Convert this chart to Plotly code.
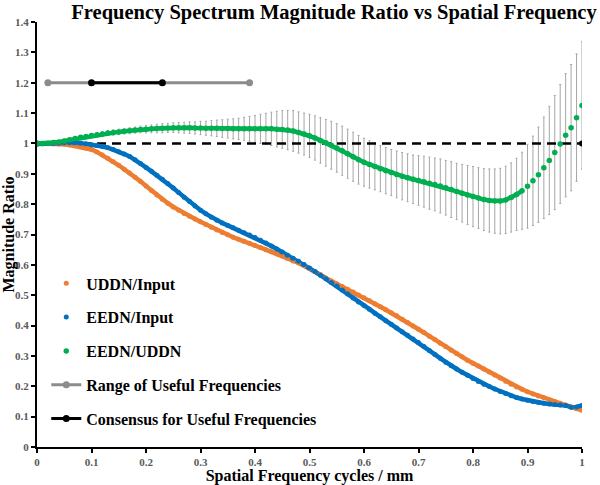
import plotly.graph_objects as go

# ---------------- data ----------------
freq = [round(i * 0.01, 2) for i in range(101)]

uddn_input = [
    1.000, 1.000, 0.999, 0.999, 0.998, 0.997, 0.995, 0.992, 0.989, 0.985,
    0.980, 0.972, 0.962, 0.951, 0.940, 0.928, 0.915, 0.903, 0.889, 0.875,
    0.860, 0.845, 0.830, 0.816, 0.803, 0.791, 0.780, 0.769, 0.760, 0.751,
    0.742, 0.733, 0.724, 0.715, 0.707, 0.699, 0.691, 0.684, 0.678, 0.671,
    0.664, 0.657, 0.650, 0.643, 0.636, 0.629, 0.621, 0.613, 0.606, 0.597,
    0.588, 0.578, 0.568, 0.557, 0.547, 0.538, 0.529, 0.520, 0.511, 0.501,
    0.492, 0.482, 0.472, 0.462, 0.452, 0.442, 0.432, 0.421, 0.410, 0.399,
    0.388, 0.377, 0.365, 0.354, 0.342, 0.331, 0.319, 0.308, 0.297, 0.286,
    0.276, 0.267, 0.257, 0.247, 0.237, 0.227, 0.217, 0.207, 0.198, 0.190,
    0.182, 0.175, 0.168, 0.162, 0.156, 0.150, 0.144, 0.138, 0.132, 0.126,
    0.121,
]

eedn_input = [
    0.998, 0.999, 1.000, 1.000, 1.001, 1.002, 1.002, 1.002, 1.001, 0.999,
    0.996, 0.993, 0.990, 0.986, 0.980, 0.973, 0.965, 0.957, 0.946, 0.934,
    0.921, 0.908, 0.895, 0.882, 0.868, 0.853, 0.838, 0.823, 0.809, 0.794,
    0.780, 0.768, 0.757, 0.747, 0.738, 0.730, 0.722, 0.714, 0.706, 0.698,
    0.690, 0.681, 0.672, 0.662, 0.652, 0.642, 0.632, 0.622, 0.612, 0.601,
    0.590, 0.578, 0.566, 0.554, 0.542, 0.530, 0.517, 0.504, 0.491, 0.478,
    0.466, 0.454, 0.441, 0.429, 0.416, 0.404, 0.392, 0.380, 0.368, 0.356,
    0.344, 0.331, 0.318, 0.305, 0.292, 0.279, 0.268, 0.257, 0.246, 0.236,
    0.226, 0.216, 0.207, 0.199, 0.191, 0.183, 0.176, 0.169, 0.163, 0.158,
    0.154, 0.150, 0.147, 0.144, 0.142, 0.140, 0.138, 0.137, 0.131, 0.132,
    0.137,
]

eedn_uddn = [
    1.000, 1.000, 1.001, 1.003, 1.005, 1.008, 1.012, 1.016, 1.020, 1.023,
    1.026, 1.029, 1.031, 1.034, 1.036, 1.038, 1.040, 1.042, 1.044, 1.046,
    1.047, 1.048, 1.049, 1.050, 1.051, 1.052, 1.052, 1.052, 1.052, 1.051,
    1.051, 1.050, 1.050, 1.050, 1.049, 1.049, 1.048, 1.048, 1.048, 1.048,
    1.048, 1.048, 1.048, 1.048, 1.047, 1.046, 1.044, 1.041, 1.036, 1.031,
    1.025, 1.018, 1.010, 1.002, 0.994, 0.985, 0.976, 0.966, 0.956, 0.946,
    0.938, 0.931, 0.924, 0.917, 0.910, 0.904, 0.898, 0.892, 0.887, 0.882,
    0.878, 0.874, 0.869, 0.865, 0.860, 0.854, 0.848, 0.842, 0.836, 0.830,
    0.825, 0.820, 0.815, 0.812, 0.810, 0.810, 0.814, 0.822, 0.832, 0.844,
    0.859, 0.877, 0.897, 0.920, 0.944, 0.970, 0.998, 1.027, 1.052, 1.085,
    1.125,
]

eedn_uddn_err = [
    0.002, 0.002, 0.003, 0.003, 0.004, 0.004, 0.005, 0.005, 0.006, 0.006,
    0.007, 0.007, 0.008, 0.008, 0.009, 0.009, 0.009, 0.010, 0.010, 0.011,
    0.012, 0.013, 0.014, 0.015, 0.015, 0.016, 0.017, 0.018, 0.019, 0.020,
    0.022, 0.023, 0.025, 0.027, 0.029, 0.031, 0.033, 0.035, 0.038, 0.041,
    0.044, 0.048, 0.051, 0.055, 0.059, 0.062, 0.065, 0.067, 0.068, 0.069,
    0.071, 0.073, 0.075, 0.077, 0.079, 0.080, 0.081, 0.081, 0.081, 0.080,
    0.079, 0.078, 0.077, 0.076, 0.076, 0.076, 0.077, 0.078, 0.079, 0.080,
    0.082, 0.084, 0.086, 0.087, 0.089, 0.090, 0.092, 0.093, 0.095, 0.097,
    0.099, 0.100, 0.102, 0.104, 0.106, 0.108, 0.111, 0.114, 0.119, 0.127,
    0.138, 0.147, 0.157, 0.167, 0.178, 0.188, 0.196, 0.203, 0.208, 0.210,
    0.210,
]

range_x = [0.02, 0.39]
range_y = [1.2, 1.2]
consensus_x = [0.10, 0.23]
consensus_y = [1.2, 1.2]
unity_x = [0.0, 1.0]
unity_y = [1.0, 1.0]

x_ticks = [0, 0.1, 0.2, 0.3, 0.4, 0.5, 0.6, 0.7, 0.8, 0.9, 1]
x_ticktext = ["0", "0.1", "0.2", "0.3", "0.4", "0.5", "0.6", "0.7", "0.8", "0.9", "1"]
y_ticks = [0, 0.1, 0.2, 0.3, 0.4, 0.5, 0.6, 0.7, 0.8, 0.9, 1, 1.1, 1.2, 1.3, 1.4]
y_ticktext = ["0", "0.1", "0.2", "0.3", "0.4", "0.5", "0.6", "0.7", "0.8", "0.9",
              "1", "1.1", "1.2", "1.3", "1.4"]

# ---------------- figure ----------------
SERIF = "Liberation Serif, Times New Roman, serif"
ORANGE = "#ED7D31"
BLUE = "#0070C0"
GREEN = "#00B050"

n_smooth = 90  # the green series is continuous up to here, then steep sparse dots

fig = go.Figure()

# error bars of EEDN/UDDN (drawn underneath everything)
fig.add_trace(go.Scatter(
    x=freq, y=eedn_uddn, mode="markers",
    marker=dict(size=1, color="rgba(0,0,0,0)"),
    error_y=dict(type="data", array=eedn_uddn_err, visible=True,
                 color="#A6A6A6", thickness=1, width=1),
    showlegend=False, hoverinfo="skip",
))

# unity reference line
fig.add_trace(go.Scatter(
    x=unity_x, y=unity_y, mode="lines+markers",
    line=dict(color="black", width=2.5, dash="9px,6px"),
    marker=dict(size=6, color="black"),
    showlegend=False, hoverinfo="skip",
))

# continuous bodies of the dense series (no legend entry)
fig.add_trace(go.Scatter(
    x=freq, y=uddn_input, mode="lines", line=dict(color=ORANGE, width=4.5),
    showlegend=False, hoverinfo="skip", legendgroup="a",
))
fig.add_trace(go.Scatter(
    x=freq, y=eedn_input, mode="lines", line=dict(color=BLUE, width=4.5),
    showlegend=False, hoverinfo="skip", legendgroup="b",
))
fig.add_trace(go.Scatter(
    x=freq[:n_smooth], y=eedn_uddn[:n_smooth], mode="lines",
    line=dict(color=GREEN, width=4.5), showlegend=False, hoverinfo="skip",
    legendgroup="c",
))

fig.add_trace(go.Scatter(
    x=freq, y=uddn_input, mode="markers", name="UDDN/Input",
    marker=dict(size=5, color=ORANGE), legendgroup="a",
))
fig.add_trace(go.Scatter(
    x=freq, y=eedn_input, mode="markers", name="EEDN/Input",
    marker=dict(size=5, color=BLUE), legendgroup="b",
))
fig.add_trace(go.Scatter(
    x=freq, y=eedn_uddn, mode="markers", name="EEDN/UDDN",
    marker=dict(size=5.5, color=GREEN), legendgroup="c",
))
fig.add_trace(go.Scatter(
    x=range_x, y=range_y, mode="lines+markers", name="Range of Useful Frequencies",
    line=dict(color="#8C8C8C", width=3), marker=dict(size=7, color="#8C8C8C"),
    legendgroup="d",
))
fig.add_trace(go.Scatter(
    x=consensus_x, y=consensus_y, mode="lines+markers", name="Consensus for Useful Frequencies",
    line=dict(color="black", width=3), marker=dict(size=7, color="black"),
    legendgroup="e",
))

axis_common = dict(
    showgrid=False, zeroline=False, showline=True, linecolor="black", linewidth=2,
    ticks="outside", ticklen=4, tickwidth=1.5, tickcolor="black",
    tickfont=dict(family=SERIF, size=11, color="#595959", weight="bold"),
    automargin=False,
)

fig.update_layout(
    width=600, height=485,
    margin=dict(l=37, r=18, t=22, b=38),
    paper_bgcolor="white", plot_bgcolor="white",
    title=dict(
        text="<b>Frequency Spectrum Magnitude Ratio vs Spatial Frequency</b>",
        font=dict(family=SERIF, size=20.5, color="black"),
        x=334 / 600, xanchor="center", xref="container",
        y=1 - 12 / 485, yanchor="middle", yref="container",
    ),
    xaxis=dict(
        range=[0, 1], tickvals=x_ticks, ticktext=x_ticktext,
        title=dict(text="<b>Spatial Frequency cycles / mm</b>",
                   font=dict(family=SERIF, size=16, color="black"), standoff=2),
        **axis_common,
    ),
    yaxis=dict(
        range=[0, 1.4], tickvals=y_ticks, ticktext=y_ticktext,
        title=dict(text="<b>Magnitude Ratio</b>",
                   font=dict(family=SERIF, size=16, color="black"), standoff=2),
        **axis_common,
    ),
    legend=dict(
        x=0.017, y=0.425, xanchor="left", yanchor="top",
        bgcolor="rgba(0,0,0,0)",
        font=dict(family=SERIF, size=16, color="black", weight="bold"),
        traceorder="grouped", tracegroupgap=10,
        itemwidth=30,
    ),
    showlegend=True,
)

fig.write_html(
    "out.html",
    config={"displayModeBar": False},
    post_script="document.body.style.margin='0';document.body.style.padding='0';",
)
